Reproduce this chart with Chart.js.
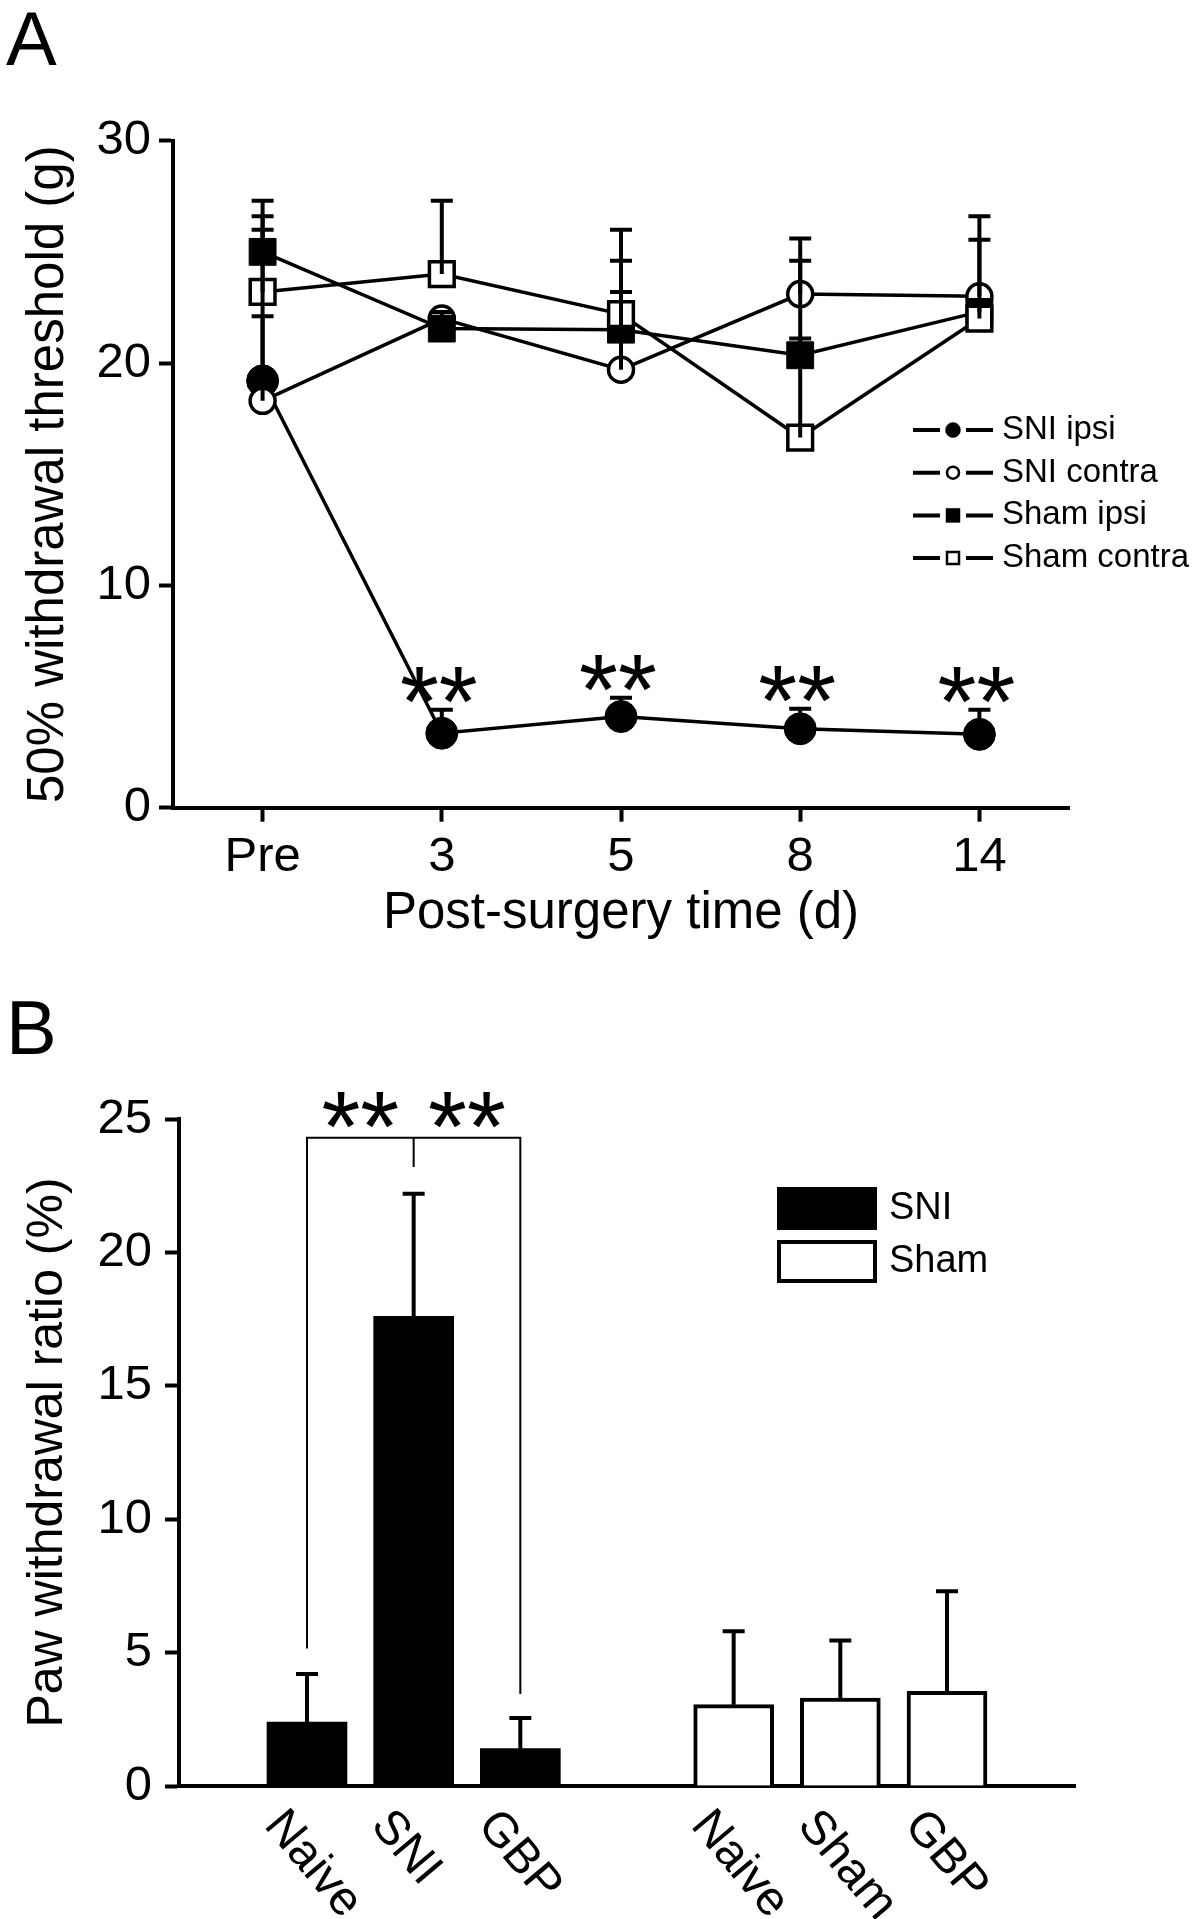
<!DOCTYPE html>
<html>
<head>
<meta charset="utf-8">
<title>Withdrawal threshold and paw withdrawal ratio</title>
<script src="https://cdn.jsdelivr.net/npm/chart.js@4.4.1/dist/chart.umd.min.js"></script>
<style>
  html, body { margin: 0; padding: 0; background: #fff; }
  #page { position: relative; width: 1200px; height: 1919px; }
  canvas { position: absolute; left: 0; }
  #chartA { top: 0; }
  #chartB { top: 960px; }
</style>
</head>
<body>
<div id="page">
  <canvas id="chartA" width="1200" height="960"></canvas>
  <canvas id="chartB" width="1200" height="959"></canvas>
</div>
<script>
// Panel A: 50% withdrawal threshold (g)
const timeLabels = ['Pre', '3', '5', '8', '14'];
const thresholdTicks = [0, 10, 20, 30];
const sniIpsi = [19.2, 3.35, 4.1, 3.55, 3.3];
const sniIpsiErr = [2.9, 1.05, 0.85, 0.9, 1.1];
const sniContra = [18.3, 22.0, 19.7, 23.1, 23.0];
const sniContraErr = [7.7, 0.3, 3.5, 2.5, 3.6];
const shamIpsi = [25.0, 21.55, 21.5, 20.35, 22.3];
const shamIpsiErr = [2.3, 0.5, 3.1, 0.75, 0.4];
const shamContra = [23.2, 24.0, 22.2, 16.65, 22.0];
const shamContraErr = [3.4, 3.3, 3.8, 7.95, 3.55];
const starredA = [1, 2, 3, 4]; // SNI ipsi points marked **

// Panel B: paw withdrawal ratio (%)
const barLabels = ['Naive', 'SNI', 'GBP', 'Naive', 'Sham', 'GBP'];
const barPos = [0, 1, 2, 4, 5, 6];
const ratioTicks = [0, 5, 10, 15, 20, 25];
const sniBars = [2.4, 17.6, 1.4];
const sniBarsErr = [1.8, 4.6, 1.15];
const shamBars = [3.05, 3.3, 3.55];
const shamBarsErr = [2.75, 2.15, 3.75];
const bracketLevel = 24.3;
const bracketEnds = [5.15, 23.2, 3.45]; // left, middle, right

const FONT = "'Liberation Sans', Arial, sans-serif";
Chart.defaults.font.family = FONT;
Chart.defaults.color = '#000';

const axisGrid = { display: true, drawOnChartArea: false, drawTicks: true, tickLength: 14, tickWidth: 4, tickColor: '#000' };
const axisBorder = { display: true, color: '#000', width: 4 };

function drawStars(ctx, cx, cy) {
  ctx.save();
  ctx.font = '100px ' + FONT;
  ctx.fillStyle = '#000';
  ctx.textAlign = 'center';
  ctx.textBaseline = 'alphabetic';
  const m = ctx.measureText('**');
  ctx.fillText('**', cx, cy + (m.actualBoundingBoxAscent - m.actualBoundingBoxDescent) / 2);
  ctx.restore();
}

function drawMarker(ctx, style, filled, x, y, r, lw) {
  ctx.beginPath();
  if (style === 'circle') ctx.arc(x, y, r, 0, Math.PI * 2);
  else ctx.rect(x - r, y - r, r * 2, r * 2);
  ctx.fillStyle = filled ? '#000' : '#fff';
  ctx.fill();
  ctx.lineWidth = lw;
  ctx.strokeStyle = '#000';
  ctx.stroke();
}

// error bars (upper only) for any dataset that carries an err array
const errorBars = {
  id: 'errorBars',
  afterDatasetsDraw(chart) {
    const ctx = chart.ctx;
    const xs = chart.scales.x, ys = chart.scales.y;
    ctx.save();
    ctx.strokeStyle = '#000';
    ctx.lineWidth = 4;
    chart.data.datasets.forEach(ds => {
      if (!ds.err) return;
      ds.data.forEach((p, i) => {
        const x = xs.getPixelForValue(p.x);
        const y0 = ys.getPixelForValue(p.y);
        const y1 = ys.getPixelForValue(p.y + ds.err[i]);
        ctx.beginPath();
        ctx.moveTo(x, y0);
        ctx.lineTo(x, y1);
        ctx.moveTo(x - 11, y1);
        ctx.lineTo(x + 11, y1);
        ctx.stroke();
      });
    });
    ctx.restore();
  }
};

const panelLetter = {
  id: 'panelLetter',
  afterDraw(chart, args, opts) {
    const ctx = chart.ctx;
    ctx.save();
    ctx.font = '76px ' + FONT;
    ctx.fillStyle = '#000';
    ctx.textBaseline = 'alphabetic';
    ctx.fillText(opts.text, 6, opts.y);
    ctx.restore();
  }
};

// ---------- Panel A ----------
const toXY = arr => arr.map((v, i) => ({ x: i, y: v }));

function lineSet(label, data, err, style, radius, filled, order) {
  return {
    label: label,
    data: toXY(data),
    err: err,
    markerStyle: style,
    filled: filled,
    borderColor: '#000',
    borderWidth: 3.5,
    pointStyle: style === 'circle' ? 'circle' : 'rect',
    pointRadius: radius,
    pointBackgroundColor: filled ? '#000' : '#fff',
    pointBorderColor: '#000',
    pointBorderWidth: filled ? 1 : 3.5,
    tension: 0,
    order: order
  };
}

const starsA = {
  id: 'starsA',
  afterDatasetsDraw(chart) {
    const xs = chart.scales.x, ys = chart.scales.y;
    starredA.forEach(i => {
      const top = ys.getPixelForValue(sniIpsi[i] + sniIpsiErr[i]);
      drawStars(chart.ctx, xs.getPixelForValue(i) - 3, top - 25);
    });
  }
};

const legendA = {
  id: 'legendA',
  afterDraw(chart) {
    const ctx = chart.ctx;
    ctx.save();
    chart.data.datasets.forEach((ds, i) => {
      const y = 430 + i * 42.7;
      ctx.strokeStyle = '#000';
      ctx.lineWidth = 4;
      ctx.beginPath();
      ctx.moveTo(913, y); ctx.lineTo(940, y);
      ctx.moveTo(966, y); ctx.lineTo(993, y);
      ctx.stroke();
      if (ds.markerStyle === 'circle') drawMarker(ctx, 'circle', ds.filled, 953, y, ds.filled ? 7.5 : 6, ds.filled ? 0.5 : 2.5);
      else drawMarker(ctx, 'rect', ds.filled, 953, y, ds.filled ? 7 : 6, ds.filled ? 0.5 : 2.5);
      ctx.fillStyle = '#000';
      ctx.font = '33px ' + FONT;
      ctx.textBaseline = 'middle';
      ctx.textAlign = 'left';
      ctx.fillText(ds.label, 1002, y);
    });
    ctx.restore();
  }
};

new Chart(document.getElementById('chartA'), {
  type: 'line',
  data: {
    datasets: [
      lineSet('SNI ipsi', sniIpsi, sniIpsiErr, 'circle', 16, true, 4),
      lineSet('SNI contra', sniContra, sniContraErr, 'circle', 12.5, false, 3),
      lineSet('Sham ipsi', shamIpsi, shamIpsiErr, 'rect', 19, true, 2),
      lineSet('Sham contra', shamContra, shamContraErr, 'rect', 17.5, false, 1)
    ]
  },
  options: {
    responsive: false,
    animation: false,
    layout: { padding: { top: 140.7, right: 131, bottom: 0, left: 0 } },
    plugins: {
      legend: { display: false },
      tooltip: { enabled: false },
      panelLetter: { text: 'A', y: 65 }
    },
    scales: {
      x: {
        type: 'linear', min: -0.5, max: 4.5, offset: false,
        afterBuildTicks: s => { s.ticks = timeLabels.map((_, i) => ({ value: i })); },
        afterFit: s => { s.height = 960 - 807.7; },
        ticks: { callback: v => timeLabels[v], font: { size: 49 }, color: '#000', padding: 6, maxRotation: 0, autoSkip: false },
        grid: axisGrid,
        border: axisBorder,
        title: { display: true, text: 'Post-surgery time (d)', font: { size: 51 }, color: '#000', padding: { top: 0, bottom: 15 } }
      },
      y: {
        min: 0, max: 30,
        afterBuildTicks: s => { s.ticks = thresholdTicks.map(v => ({ value: v })); },
        afterFit: s => { s.width = 173; },
        ticks: { font: { size: 49 }, color: '#000', padding: 8 },
        grid: axisGrid,
        border: axisBorder,
        title: { display: true, text: '50% withdrawal threshold (g)', font: { size: 51 }, color: '#000', padding: { top: 18, bottom: 0 } }
      }
    }
  },
  plugins: [errorBars, starsA, legendA, panelLetter]
});

// ---------- Panel B ----------
const barXY = (vals, pos) => vals.map((v, i) => ({ x: pos[i], y: v }));

const bracketB = {
  id: 'bracketB',
  afterDatasetsDraw(chart) {
    const ctx = chart.ctx, xs = chart.scales.x, ys = chart.scales.y;
    const yTop = ys.getPixelForValue(bracketLevel);
    const xl = xs.getPixelForValue(barPos[0]);
    const xm = xs.getPixelForValue(barPos[1]);
    const xr = xs.getPixelForValue(barPos[2]);
    ctx.save();
    ctx.strokeStyle = '#000';
    ctx.lineWidth = 2;
    ctx.beginPath();
    ctx.moveTo(xl, ys.getPixelForValue(bracketEnds[0]));
    ctx.lineTo(xl, yTop);
    ctx.lineTo(xr, yTop);
    ctx.lineTo(xr, ys.getPixelForValue(bracketEnds[2]));
    ctx.moveTo(xm, yTop);
    ctx.lineTo(xm, ys.getPixelForValue(bracketEnds[1]));
    ctx.stroke();
    ctx.restore();
    drawStars(ctx, (xl + xm) / 2, yTop - 28);
    drawStars(ctx, (xm + xr) / 2, yTop - 28);
  }
};

const rotatedLabels = {
  id: 'rotatedLabels',
  afterDraw(chart) {
    const ctx = chart.ctx, xs = chart.scales.x, ys = chart.scales.y;
    const base = ys.getPixelForValue(0);
    ctx.save();
    ctx.font = '48px ' + FONT;
    ctx.fillStyle = '#000';
    ctx.textAlign = 'left';
    ctx.textBaseline = 'alphabetic';
    barLabels.forEach((t, i) => {
      ctx.save();
      ctx.translate(xs.getPixelForValue(barPos[i]) - 44, base + 40);
      ctx.rotate(50 * Math.PI / 180);
      ctx.fillText(t, 0, 0);
      ctx.restore();
    });
    ctx.restore();
  }
};

const legendB = {
  id: 'legendB',
  afterDraw(chart) {
    const ctx = chart.ctx;
    ctx.save();
    chart.data.datasets.forEach((ds, i) => {
      const top = 227 + i * 53;
      if (ds.backgroundColor === '#000') {
        ctx.fillStyle = '#000';
        ctx.fillRect(777, top, 100, 43);
      } else {
        ctx.strokeStyle = '#000';
        ctx.lineWidth = 4;
        ctx.strokeRect(779, top + 2, 96, 39);
      }
      ctx.fillStyle = '#000';
      ctx.font = '38px ' + FONT;
      ctx.textBaseline = 'middle';
      ctx.fillText(ds.label, 889, top + 22);
    });
    ctx.restore();
  }
};

new Chart(document.getElementById('chartB'), {
  type: 'bar',
  data: {
    datasets: [
      {
        label: 'SNI',
        data: barXY(sniBars, barPos.slice(0, 3)),
        err: sniBarsErr,
        backgroundColor: '#000',
        borderWidth: 0
      },
      {
        label: 'Sham',
        data: barXY(shamBars, barPos.slice(3)),
        err: shamBarsErr,
        backgroundColor: '#fff',
        borderColor: '#000',
        borderWidth: 4
      }
    ]
  },
  options: {
    responsive: false,
    animation: false,
    grouped: false,
    barThickness: 80,
    layout: { padding: { top: 159, right: 125, bottom: 0, left: 0 } },
    plugins: {
      legend: { display: false },
      tooltip: { enabled: false },
      panelLetter: { text: 'B', y: 94 }
    },
    scales: {
      x: {
        type: 'linear', min: -1.2, max: 7.2, offset: false,
        afterFit: s => { s.height = 959 - 826; },
        ticks: { display: false },
        grid: { display: false },
        border: axisBorder
      },
      y: {
        min: 0, max: 25,
        afterBuildTicks: s => { s.ticks = ratioTicks.map(v => ({ value: v })); },
        afterFit: s => { s.width = 179; },
        ticks: { font: { size: 49 }, color: '#000', padding: 13 },
        grid: axisGrid,
        border: axisBorder,
        title: { display: true, text: 'Paw withdrawal ratio (%)', font: { size: 50 }, color: '#000', padding: { top: 18, bottom: 0 } }
      }
    }
  },
  plugins: [errorBars, bracketB, rotatedLabels, legendB, panelLetter]
});
</script>
</body>
</html>
